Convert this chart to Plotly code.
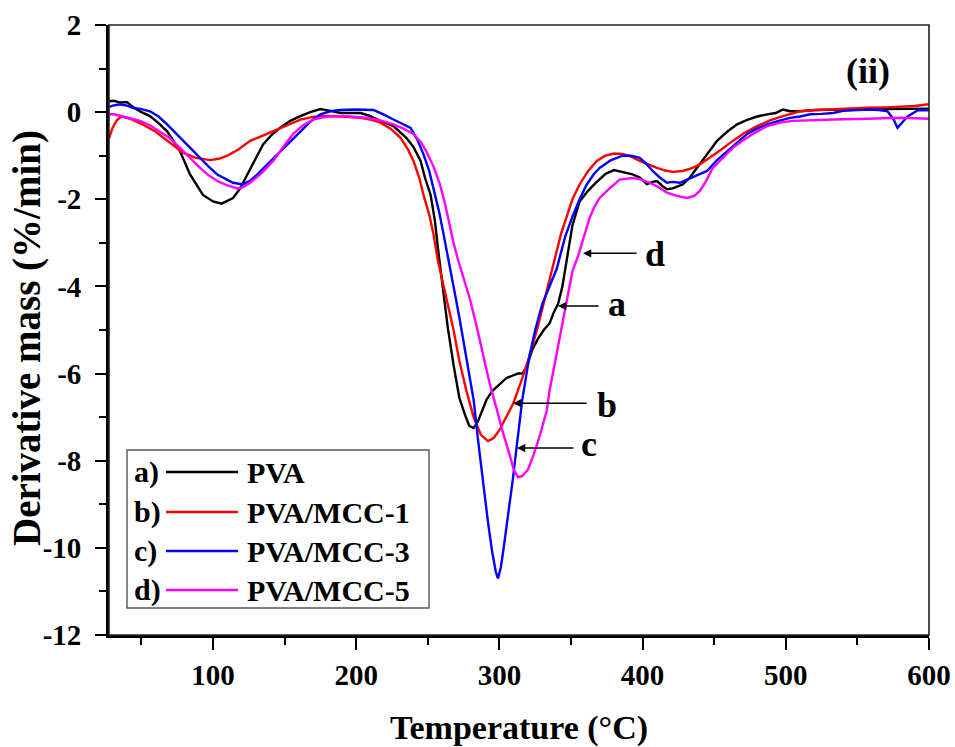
import plotly.graph_objects as go

# ---------------- data ----------------
series_names = ["PVA", "PVA/MCC-1", "PVA/MCC-3", "PVA/MCC-5"]
series_tags = ["a)", "b)", "c)", "d)"]
series_colors = ["#000000", "#ff0000", "#0000ff", "#ff00ff"]

pva_x = [27.4, 31, 35, 40, 44, 50, 56, 62, 68, 77, 84, 93, 100, 106, 114, 119, 124, 130, 135, 141, 147, 154,
         161, 168, 175, 182, 189, 203, 209, 215, 226, 235, 240, 245, 248, 252, 255, 257, 260, 264, 268, 272,
         276, 279, 282, 285, 288, 291, 295, 300, 305, 309, 313, 316, 319, 323, 327, 331, 335, 338, 341, 344,
         346, 348, 351, 356, 362, 368, 374, 380, 387, 393, 398, 403, 407, 410, 414, 417, 421, 425, 428, 433,
         438, 445, 452, 459, 466, 473, 480, 487, 493, 498, 503, 510, 520, 540, 560, 580, 600]
pva_y = [0.25, 0.26, 0.22, 0.23, 0.12, 0.0, -0.09, -0.25, -0.44, -0.9, -1.43, -1.9, -2.05, -2.1, -1.97, -1.75,
         -1.43, -1.05, -0.74, -0.52, -0.36, -0.2, -0.09, 0.0, 0.07, 0.03, -0.02, -0.02, -0.08, -0.17, -0.32,
         -0.59, -0.8, -1.12, -1.5, -1.9, -2.5, -3.1, -3.9, -4.95, -5.8, -6.55, -6.95, -7.2, -7.25, -7.1, -6.85,
         -6.6, -6.4, -6.25, -6.1, -6.05, -6.0, -6.0, -5.85, -5.45, -5.2, -5.0, -4.85, -4.6, -4.4, -4.0, -3.6,
         -3.1, -2.6, -2.05, -1.8, -1.6, -1.42, -1.33, -1.38, -1.43, -1.5, -1.65, -1.6, -1.58, -1.7, -1.77,
         -1.75, -1.7, -1.66, -1.5, -1.28, -0.95, -0.66, -0.45, -0.28, -0.18, -0.1, -0.05, -0.02, 0.06, 0.02,
         0.02, 0.05, 0.06, 0.07, 0.07, 0.08]

mcc1_x = [27.4, 30, 33, 36, 42, 51, 60, 68, 79, 88, 98, 104, 110, 118, 126, 134, 142, 151, 161, 170, 180, 190,
          203, 210, 217, 224, 231, 236, 240, 244, 247, 251, 254, 257, 260, 263, 268, 272, 277, 282, 287, 292,
          296, 300, 305, 309.5, 315, 321, 327, 333, 337, 340, 343, 347, 351, 356, 362, 368, 374, 380, 386, 392,
          398, 404, 410, 416, 421, 428, 435, 440, 445, 454, 463, 471, 480, 489, 498, 510, 522, 533, 545, 557,
          570, 580, 590, 600]
mcc1_y = [-0.6, -0.35, -0.18, -0.1, -0.15, -0.28, -0.45, -0.66, -0.93, -1.05, -1.1, -1.07, -1.0, -0.85, -0.66,
          -0.55, -0.44, -0.3, -0.17, -0.11, -0.09, -0.1, -0.13, -0.17, -0.24, -0.38, -0.59, -0.85, -1.12, -1.5,
          -1.9, -2.35, -2.8, -3.4, -3.85, -4.25, -5.0, -5.7, -6.4, -7.0, -7.4, -7.55, -7.48, -7.3, -7.0, -6.7,
          -6.2, -5.6, -4.9, -4.1, -3.6, -3.2, -2.8, -2.4, -2.0, -1.66, -1.35, -1.12, -1.0, -0.95, -0.96, -1.02,
          -1.12, -1.2, -1.28, -1.34, -1.37, -1.35, -1.28, -1.2, -1.09, -0.88, -0.66, -0.48, -0.32, -0.19, -0.09,
          0.02, 0.05, 0.07, 0.09, 0.1, 0.11, 0.12, 0.14, 0.18]

mcc3_x = [27.4, 30, 35, 40, 44, 50, 56, 62, 68, 74, 79, 85, 91, 97, 103, 108, 114, 121, 126, 131, 138, 145,
          153, 161, 168, 175, 182, 189, 200, 212, 219, 226, 232, 238, 243, 247, 251, 254, 258, 261, 264, 268,
          272, 277, 282, 285, 288.5, 292, 295, 297.5, 299, 301, 303, 305, 307, 309.5, 312, 314, 316, 318.5, 321,
          325, 330, 335, 340, 342, 346, 351, 356, 361, 366, 370, 378, 386, 392, 398, 403, 407, 412, 417, 421,
          426, 431, 435, 440, 445, 452, 459, 466, 473, 480, 487, 495, 503, 510, 517, 525, 533, 540, 548, 557,
          565, 571, 575, 578, 581, 585, 592, 600]
mcc3_y = [0.12, 0.15, 0.18, 0.15, 0.1, 0.07, 0.02, -0.1, -0.28, -0.48, -0.66, -0.85, -1.05, -1.25, -1.43, -1.52,
          -1.62, -1.66, -1.57, -1.43, -1.2, -0.97, -0.7, -0.44, -0.22, -0.05, 0.02, 0.05, 0.06, 0.05, -0.05,
          -0.17, -0.27, -0.36, -0.65, -0.97, -1.35, -1.74, -2.3, -2.8, -3.35, -4.0, -4.7, -5.65, -6.6, -7.5,
          -8.5, -9.4, -10.1, -10.55, -10.7, -10.45, -10.0, -9.5, -9.1, -8.4, -7.7, -7.15, -6.6, -6.1, -5.6, -5.0,
          -4.4, -4.0, -3.6, -3.35, -2.85, -2.4, -2.0, -1.66, -1.42, -1.28, -1.1, -1.0, -1.0, -1.05, -1.2, -1.35,
          -1.5, -1.62, -1.6, -1.62, -1.55, -1.5, -1.42, -1.35, -1.1, -0.9, -0.68, -0.5, -0.38, -0.28, -0.2, -0.13,
          -0.1, -0.05, -0.04, -0.02, 0.03, 0.05, 0.06, 0.05, 0.02, -0.15, -0.36, -0.25, -0.1, 0.04, 0.04]

mcc5_x = [27.4, 31, 37, 43, 49, 56, 63, 70, 77, 84, 91, 97, 103, 110, 117, 121, 126, 134, 142, 149, 156, 163,
          170, 177, 184, 195, 207, 217, 226, 233, 240, 245, 249, 254, 258.5, 262, 265.5, 268, 271, 275, 279.5,
          284, 288.5, 293, 298, 302, 307, 310, 313, 316, 320, 323.5, 328, 333, 335, 340, 345, 348, 351, 355,
          359, 363, 366, 370, 377, 384, 393, 399, 405, 411, 417, 424, 431, 436, 440, 444, 449, 456, 463, 470,
          477, 487, 496, 505, 520, 533, 557, 580, 600]
mcc5_y = [-0.05, -0.05, -0.1, -0.15, -0.2, -0.3, -0.44, -0.6, -0.82, -1.05, -1.28, -1.45, -1.58, -1.68, -1.75,
          -1.72, -1.62, -1.4, -1.12, -0.8, -0.5, -0.3, -0.17, -0.12, -0.09, -0.1, -0.13, -0.19, -0.28, -0.38,
          -0.5, -0.68, -0.9, -1.25, -1.66, -2.1, -2.66, -3.0, -3.37, -3.8, -4.3, -4.9, -5.55, -6.2, -6.8, -7.3,
          -7.85, -8.2, -8.38, -8.35, -8.2, -7.9, -7.45, -6.86, -6.4, -5.55, -4.7, -4.15, -3.65, -3.3, -2.85,
          -2.43, -2.2, -1.97, -1.75, -1.55, -1.51, -1.55, -1.62, -1.72, -1.85, -1.92, -1.97, -1.92, -1.81, -1.6,
          -1.28, -1.05, -0.82, -0.65, -0.5, -0.32, -0.24, -0.2, -0.18, -0.17, -0.15, -0.13, -0.15]

x_tick_vals = [100, 200, 300, 400, 500, 600]
y_tick_vals = [-12, -10, -8, -6, -4, -2, 0, 2]

series_x = [pva_x, mcc1_x, mcc3_x, mcc5_x]
series_y = [pva_y, mcc1_y, mcc3_y, mcc5_y]

# curve labels with arrows
arrow_labels = ["d", "a", "b", "c"]
arrow_tip_x = [358.4, 340.9, 309.5, 312.3]
arrow_tip_y = [-3.24, -4.45, -6.68, -7.71]
arrow_tail_x = [396.8, 370.3, 361.9, 352.8]
label_x = [408.7, 382.1, 375.1, 362.6]
label_y = [-3.25, -4.4, -6.72, -7.62]

FONT = "Liberation Serif, Times New Roman, serif"


def bold(s):
    return "<b>" + s + "</b>"


# ---------------- figure ----------------
fig = go.Figure()
for name, col, xs, ys in zip(series_names, series_colors, series_x, series_y):
    fig.add_trace(go.Scatter(x=xs, y=ys, mode="lines", name=name,
                             line=dict(color=col, width=2.4), showlegend=False))

W, H = 955, 747
L, R, T, B = 109, 26, 25, 112
PW, PH = W - L - R, H - T - B


def px(xp):
    return (xp - L) / PW


def py(yp):
    return (H - B - yp) / PH


shapes = []
annotations = []

# thin frame for top/right
shapes.append(dict(type="rect", xref="paper", yref="paper", x0=0, y0=0, x1=1, y1=1,
                   line=dict(color="#222", width=1.6), layer="above"))

# custom legend
shapes.append(dict(type="rect", xref="paper", yref="paper", x0=px(127), x1=px(429), y0=py(608), y1=py(450),
                   line=dict(color="#555", width=1.4), fillcolor="rgba(255,255,255,0)", layer="above"))
row_y = [472, 512, 551, 590]
for tag, name, col, ry in zip(series_tags, series_names, series_colors, row_y):
    annotations.append(dict(xref="paper", yref="paper", x=px(132), y=py(ry), text=bold(tag), showarrow=False,
                            xanchor="left", yanchor="middle",
                            font=dict(family=FONT, size=30, color="black")))
    shapes.append(dict(type="line", xref="paper", yref="paper", x0=px(166), x1=px(238), y0=py(ry), y1=py(ry),
                       line=dict(color=col, width=2.6), layer="above"))
    annotations.append(dict(xref="paper", yref="paper", x=px(245), y=py(ry), text=bold(name), showarrow=False,
                            xanchor="left", yanchor="middle",
                            font=dict(family=FONT, size=30, color="black")))

# arrows and letters
for lab, tx, ty, ax, lx, ly in zip(arrow_labels, arrow_tip_x, arrow_tip_y, arrow_tail_x, label_x, label_y):
    annotations.append(dict(x=tx, y=ty, xref="x", yref="y", ax=ax, ay=ty, axref="x", ayref="y",
                            text="", showarrow=True, arrowhead=2, arrowsize=1.1, arrowwidth=1.5,
                            arrowcolor="black", standoff=0, startstandoff=0))
    annotations.append(dict(x=lx, y=ly, xref="x", yref="y", text=bold(lab), showarrow=False,
                            xanchor="center", yanchor="middle",
                            font=dict(family=FONT, size=36, color="black")))

annotations.append(dict(x=557.4, y=0.94, xref="x", yref="y", text=bold("(ii)"), showarrow=False,
                        xanchor="center", yanchor="middle",
                        font=dict(family=FONT, size=36, color="black")))

# y-axis title as a rotated annotation for precise placement
annotations.append(dict(xref="paper", yref="paper", x=px(27), y=py(338), text=bold("Derivative mass (%/min)"),
                        showarrow=False, textangle=-90, xanchor="center", yanchor="middle",
                        font=dict(family=FONT, size=39, color="black")))

fig.update_layout(
    width=W, height=H,
    margin=dict(l=L, r=R, t=T, b=B, pad=0, autoexpand=False),
    paper_bgcolor="white", plot_bgcolor="white",
    font=dict(family=FONT, color="black"),
    shapes=shapes, annotations=annotations,
    showlegend=False,
)

fig.update_xaxes(
    range=[27.4, 600], tickmode="array", tickvals=x_tick_vals, ticktext=[bold(str(v)) for v in x_tick_vals],
    automargin=False,
    showgrid=False, zeroline=False, showline=True, linecolor="black", linewidth=2.8,
    ticks="outside", ticklen=12, tickwidth=2.2, tickcolor="black",
    minor=dict(tickvals=[50, 150, 250, 350, 450, 550], ticks="outside", ticklen=7, tickwidth=2.2,
               tickcolor="black", showgrid=False),
    tickfont=dict(family=FONT, size=29, color="black"),
    title=dict(text=bold("Temperature (°C)"), font=dict(family=FONT, size=34, color="black"),
               standoff=26),
)
fig.update_yaxes(
    range=[-12, 2], tickmode="array", tickvals=y_tick_vals, ticktext=[bold(str(v)) for v in y_tick_vals],
    automargin=False, ticklabelstandoff=8,
    showgrid=False, zeroline=False, showline=True, linecolor="black", linewidth=2.8,
    ticks="outside", ticklen=11, tickwidth=2.2, tickcolor="black",
    minor=dict(tickvals=[-11, -9, -7, -5, -3, -1, 1], ticks="outside", ticklen=7, tickwidth=2.2,
               tickcolor="black", showgrid=False),
    tickfont=dict(family=FONT, size=29, color="black"),
)

fig.write_html("out.html", config={"displayModeBar": False},
               post_script="document.body.style.margin='0';document.body.style.padding='0';")
